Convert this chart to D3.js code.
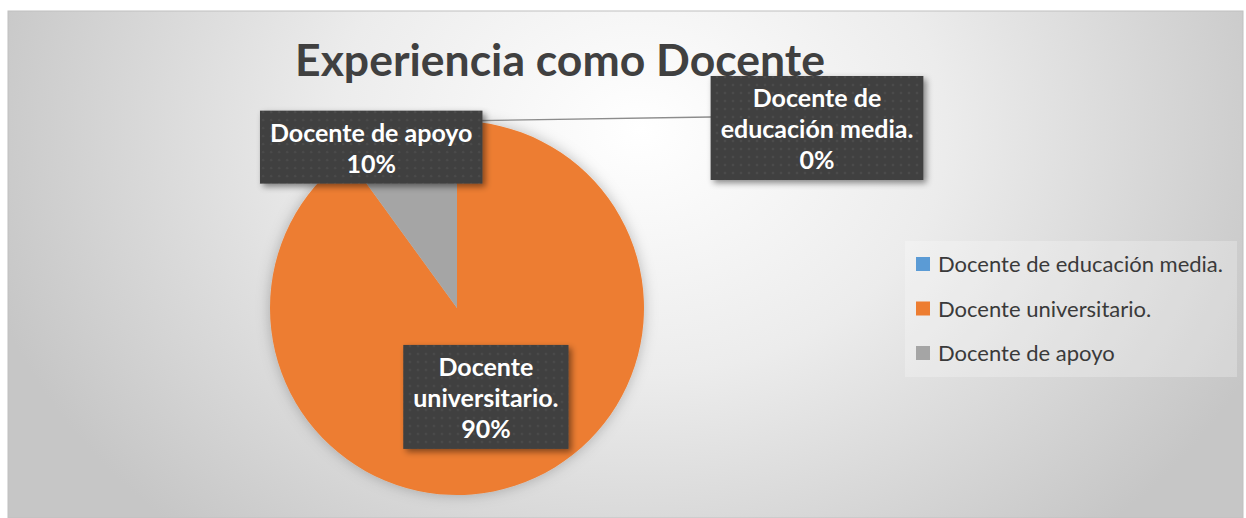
<!DOCTYPE html>
<html>
<head>
<meta charset="utf-8">
<script src="https://cdn.jsdelivr.net/npm/d3@7"></script>
<style>
  body { margin: 0; background: #fff; }
  text { font-family: Lato, "Noto Sans", sans-serif; }
</style>
</head>
<body>
<script>
const W = 1246, H = 518;

const categories = ["Docente de educación media.", "Docente universitario.", "Docente de apoyo"];
const values = [0, 90, 10];
const colors = ["#5B9BD5", "#ED7D31", "#A5A5A5"];
// label text lines, and nudges (px) from the default label spot
const labelLines = [
    ["Docente de", "educación media.", "0%"],
    ["Docente", "universitario.", "90%"],
    ["Docente de apoyo", "10%"]
];
const labelNudge = [[360, 8], [0, 1], [-28, 18]];

const title = "Experiencia como Docente";

const svg = d3.select("body")
    .append("svg")
    .attr("width", W)
    .attr("height", H);

const defs = svg.append("defs");

const bg = defs.append("radialGradient")
    .attr("id", "bg")
    .attr("gradientUnits", "userSpaceOnUse")
    .attr("cx", 640).attr("cy", 130).attr("r", 680)
    .attr("gradientTransform", "translate(640,130) scale(1,0.8) translate(-640,-130)");
bg.append("stop").attr("offset", "0%").attr("stop-color", "#ffffff");
bg.append("stop").attr("offset", "45%").attr("stop-color", "#ececec");
bg.append("stop").attr("offset", "100%").attr("stop-color", "#c6c6c6");

const dots = defs.append("pattern")
    .attr("id", "dots")
    .attr("patternUnits", "userSpaceOnUse")
    .attr("width", 8).attr("height", 8);
dots.append("rect").attr("width", 8).attr("height", 8).attr("fill", "#404040");
dots.append("circle").attr("cx", 4).attr("cy", 4).attr("r", 1.3).attr("fill", "#4b4b4b");

const shadow = defs.append("filter").attr("id", "shadow")
    .attr("x", "-20%").attr("y", "-20%").attr("width", "150%").attr("height", "150%");
shadow.append("feDropShadow")
    .attr("dx", 3).attr("dy", 3).attr("stdDeviation", 3)
    .attr("flood-color", "#000").attr("flood-opacity", 0.45);

const pieShadow = defs.append("filter").attr("id", "pieShadow")
    .attr("x", "-20%").attr("y", "-20%").attr("width", "140%").attr("height", "140%");
pieShadow.append("feDropShadow")
    .attr("dx", 0).attr("dy", 0).attr("stdDeviation", 7)
    .attr("flood-color", "#000").attr("flood-opacity", 0.25);

// chart area
svg.append("rect")
    .attr("x", 8).attr("y", 11)
    .attr("width", 1235).attr("height", H - 11)
    .attr("fill", "url(#bg)")
    .attr("stroke", "#c0c0c0");

svg.append("text")
    .attr("x", 560).attr("y", 76)
    .attr("text-anchor", "middle")
    .attr("font-size", 44.5)
    .attr("font-weight", 700)
    .attr("fill", "#404040")
    .text(title);

const cx = 457, cy = 308, r = 187;

const pie = d3.pie().sort(null).value(d => d)(values);
const arc = d3.arc().innerRadius(0).outerRadius(r);

const g = svg.append("g").attr("transform", `translate(${cx},${cy})`);

g.append("g")
    .attr("filter", "url(#pieShadow)")
    .selectAll("path")
    .data(pie)
    .enter()
    .append("path")
    .attr("d", arc)
    .attr("fill", (d, i) => colors[i]);

// labels
const lineH = 31;
const labels = g.selectAll(".lbl")
    .data(pie)
    .enter()
    .append("g")
    .attr("class", "lbl")
    .attr("transform", (d, i) => {
        let p;
        if (d.value > 0 && d.endAngle - d.startAngle > 1) p = arc.centroid(d);
        else {
            const a = (d.startAngle + d.endAngle) / 2;
            p = [Math.sin(a) * r, -Math.cos(a) * r];
        }
        return `translate(${p[0] + labelNudge[i][0]},${p[1] + labelNudge[i][1]})`;
    });

// leader line for 0% slice
const a0 = (pie[0].startAngle + pie[0].endAngle) / 2;
g.insert("line", ".lbl")
    .attr("x1", Math.sin(a0) * r).attr("y1", -Math.cos(a0) * r)
    .attr("x2", Math.sin(a0) * r + labelNudge[0][0] - 106)
    .attr("y2", -Math.cos(a0) * r + labelNudge[0][1] - 12)
    .attr("stroke", "#8c8c8c")
    .attr("stroke-width", 1.3);

labels.each(function (d, i) {
    const sel = d3.select(this);
    const lines = labelLines[i];
    const t = sel.append("text")
        .attr("text-anchor", "middle")
        .attr("font-size", 25)
        .attr("font-weight", 700)
        .attr("fill", "#ffffff");
    lines.forEach((s, k) => {
        t.append("tspan")
            .attr("x", 0)
            .attr("y", (k - (lines.length - 1) / 2) * lineH + 9)
            .text(s);
    });
    const bb = t.node().getBBox();
    sel.insert("rect", "text")
        .attr("x", bb.x - 10).attr("y", bb.y - 6)
        .attr("width", bb.width + 20).attr("height", bb.height + 12)
        .attr("fill", "url(#dots)")
        .attr("filter", "url(#shadow)");
});

// legend
const lg = svg.append("g");
lg.append("rect")
    .attr("x", 905).attr("y", 241)
    .attr("width", 332).attr("height", 136)
    .attr("fill", "#ffffff").attr("fill-opacity", 0.25);

const ly = d3.scalePoint().domain(categories).range([264, 353]);

const item = lg.selectAll(".item")
    .data(categories)
    .enter()
    .append("g")
    .attr("transform", d => `translate(916,${ly(d)})`);
item.append("rect")
    .attr("x", 0).attr("y", -7)
    .attr("width", 14).attr("height", 14)
    .attr("fill", (d, i) => colors[i]);
item.append("text")
    .attr("x", 22).attr("y", 8)
    .attr("font-size", 22)
    .attr("fill", "#3a3a3a")
    .text(d => d);
</script>
</body>
</html>
